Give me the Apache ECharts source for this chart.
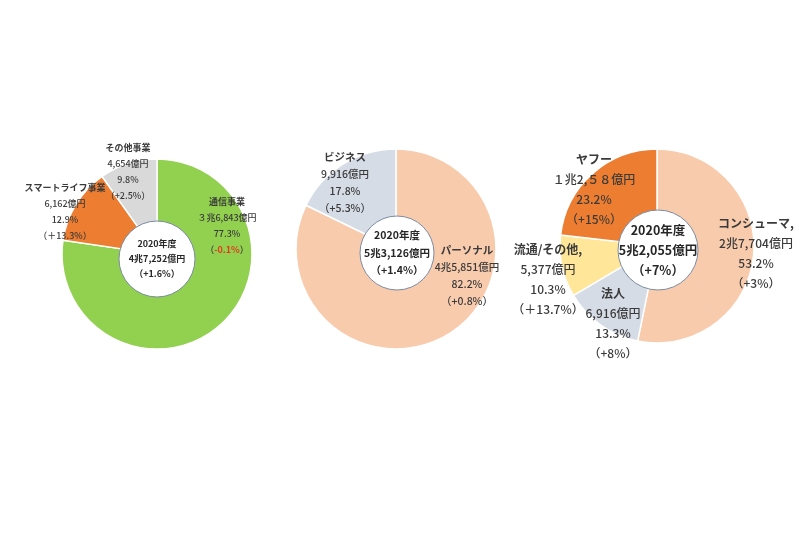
<!DOCTYPE html>
<html>
<head>
<meta charset="utf-8">
<script src="https://cdn.jsdelivr.net/npm/echarts@6/dist/echarts.min.js"></script>
<style>
  html, body { margin: 0; background: #fff; }
  #chart { width: 800px; height: 533px; }
</style>
</head>
<body>
<div id="chart"></div>
<script>
// 左：セグメント別（通信事業など）
const names1 = ['通信事業', 'スマートライフ事業', 'その他事業'];
const amounts1 = ['３兆6,843億円', '6,162億円', '4,654億円'];
const shares1 = [77.3, 12.9, 9.8];
const changes1 = ['-0.1%', '＋13.3%', '+2.5%'];
const total1 = ['2020年度', '4兆7,252億円', '（+1.6%）'];

// 中央：パーソナル / ビジネス
const names2 = ['パーソナル', 'ビジネス'];
const amounts2 = ['4兆5,851億円', '9,916億円'];
const shares2 = [82.2, 17.8];
const changes2 = ['+0.8%', '+5.3%'];
const total2 = ['2020年度', '5兆3,126億円', '（+1.4%）'];

// 右：コンシューマ / 法人 / 流通 / ヤフー
const names3 = ['コンシューマ,', '法人', '流通/その他,', 'ヤフー'];
const amounts3 = ['2兆7,704億円', '6,916億円', '5,377億円', '１兆2,５８億円'];
const shares3 = [53.2, 13.3, 10.3, 23.2];
const changes3 = ['+3%', '+8%', '＋13.7%', '+15%'];
const total3 = ['2020年度', '5兆2,055億円', '（+7%）'];

const txt = '#3a3a3a';
const font = '"Noto Sans CJK JP", "Noto Sans", sans-serif';

function donut(cfg) {
    const rich = {
        n: { fontSize: cfg.fs, lineHeight: cfg.lh, color: txt, fontWeight: 'bold', fontFamily: font },
        t: { fontSize: cfg.fs, lineHeight: cfg.lh, color: txt, fontWeight: 500, fontFamily: font },
        r: { fontSize: cfg.fs, lineHeight: cfg.lh, color: '#e03c1c', fontWeight: 'bold', fontFamily: font }
    };
    const ring = {
        type: 'pie',
        center: cfg.center,
        radius: [20, cfg.r],
        startAngle: 90,
        clockwise: true,
        silent: true,
        animation: false,
        itemStyle: { borderColor: '#fff', borderWidth: 1.5 },
        labelLine: { show: false },
        data: cfg.names.map((n, i) => ({
            name: n,
            value: cfg.shares[i],
            itemStyle: { color: cfg.colors[i] }
        })),
        label: {
            show: true,
            position: 'center',
            formatter: p => {
                const i = p.dataIndex;
                const ch = cfg.changes[i];
                const chLine = ch.startsWith('-')
                    ? '{t|（}{r|' + ch + '}{t|）}'
                    : '{t|（' + ch + '）}';
                return '{n|' + cfg.names[i] + '}\n{t|' + cfg.amounts[i] + '}\n{t|' +
                    cfg.shares[i].toFixed(1) + '%}\n' + chLine;
            },
            rich: rich
        },
        labelLayout: p => ({ dx: cfg.offsets[p.dataIndex][0], dy: cfg.offsets[p.dataIndex][1] })
    };
    const disc = {
        type: 'pie',
        center: cfg.discCenter,
        radius: [0, cfg.discR],
        silent: true,
        animation: false,
        itemStyle: { color: '#fff', borderColor: '#7d8ca3', borderWidth: 1 },
        labelLine: { show: false },
        data: [{ name: cfg.total[0], value: 1 }],
        label: {
            show: true,
            position: 'center',
            formatter: () => cfg.total.map(s => '{c|' + s + '}').join('\n'),
            rich: {
                c: { fontSize: cfg.cfs, lineHeight: cfg.clh, color: '#262626', fontWeight: 'bold', fontFamily: font }
            }
        }
    };
    return [ring, disc];
}

const chart = echarts.init(document.getElementById('chart'));
chart.setOption({
    backgroundColor: '#fff',
    series: [
        ...donut({
            names: names1, amounts: amounts1, shares: shares1, changes: changes1, total: total1,
            colors: ['#92d050', '#ed7d31', '#d9d9d9'],
            center: [157, 254], r: 95, discCenter: [157, 259], discR: 38,
            fs: 9, lh: 16, cfs: 9, clh: 15,
            offsets: [[70, -28], [-92, -42], [-29, -82]]
        }),
        ...donut({
            names: names2, amounts: amounts2, shares: shares2, changes: changes2, total: total2,
            colors: ['#f8cbad', '#d6dce5'],
            center: [396, 249], r: 100, discCenter: [397, 253], discR: 37,
            fs: 10.5, lh: 17, cfs: 10.5, clh: 17.5,
            offsets: [[71, 27], [-51, -66]]
        }),
        ...donut({
            names: names3, amounts: amounts3, shares: shares3, changes: changes3, total: total3,
            colors: ['#f8cbad', '#d6dce5', '#ffe699', '#ed7d31'],
            center: [657, 246], r: 97, discCenter: [658, 250], discR: 40,
            fs: 12, lh: 20, cfs: 12.5, clh: 20,
            offsets: [[99, 7], [-44, 77], [-109, 33], [-63, -57]]
        })
    ]
});
</script>
</body>
</html>
